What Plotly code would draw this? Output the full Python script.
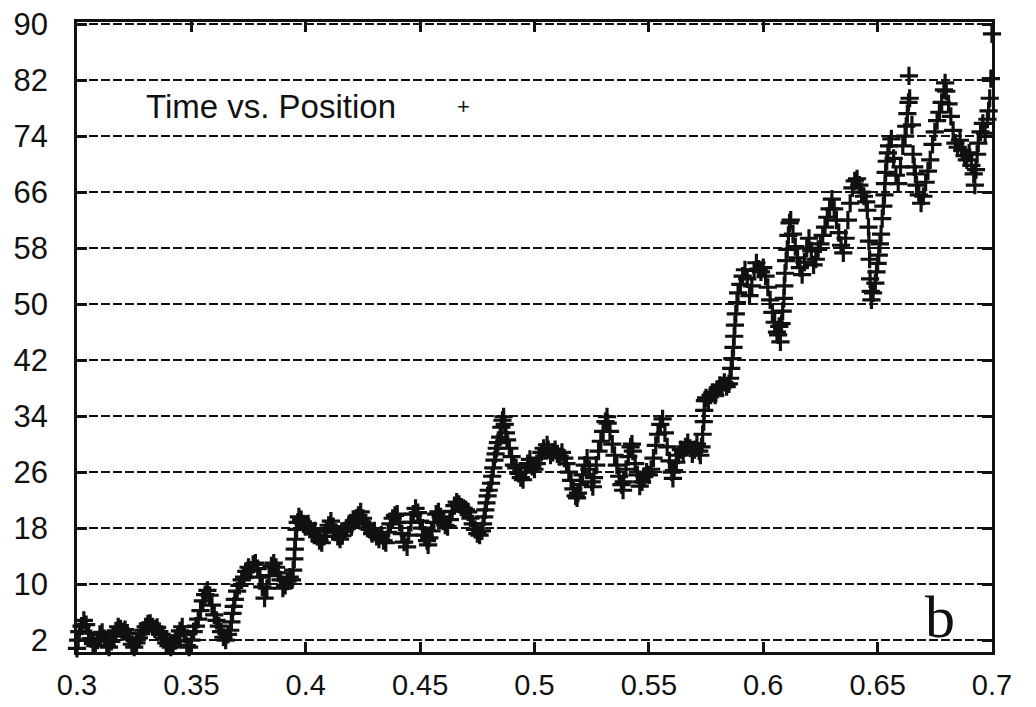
import plotly.graph_objects as go

# Measured trajectory: position (x) against time (y)
position = [
    0.300, 0.3005, 0.301, 0.302, 0.303, 0.304, 0.305, 0.306, 0.307, 0.308,
    0.309, 0.310, 0.311, 0.312, 0.313, 0.314, 0.315, 0.316, 0.317, 0.318,
    0.319, 0.320, 0.321, 0.322, 0.323, 0.324, 0.325, 0.326, 0.327, 0.328,
    0.329, 0.330, 0.331, 0.332, 0.333, 0.334, 0.335, 0.336, 0.337, 0.338,
    0.339, 0.340, 0.341, 0.342, 0.343, 0.344, 0.345, 0.346, 0.347, 0.348,
    0.3485, 0.349, 0.350, 0.351, 0.352, 0.353, 0.354, 0.355, 0.356, 0.357,
    0.358, 0.359, 0.360, 0.361, 0.362, 0.363, 0.364, 0.365, 0.366, 0.367,
    0.3675, 0.368, 0.3685, 0.369, 0.370, 0.371, 0.372, 0.373, 0.374, 0.375,
    0.376, 0.377, 0.378, 0.379, 0.380, 0.381, 0.382, 0.383, 0.384, 0.385,
    0.386, 0.387, 0.388, 0.389, 0.390, 0.391, 0.392, 0.393, 0.394, 0.3945,
    0.395, 0.3952, 0.3955, 0.396, 0.3965, 0.397, 0.398, 0.399, 0.400, 0.401,
    0.402, 0.403, 0.404, 0.405, 0.406, 0.407, 0.408, 0.409, 0.410, 0.411,
    0.412, 0.413, 0.414, 0.415, 0.416, 0.417, 0.418, 0.419, 0.420, 0.421,
    0.422, 0.423, 0.424, 0.425, 0.426, 0.427, 0.428, 0.429, 0.430, 0.431,
    0.432, 0.433, 0.434, 0.435, 0.436, 0.437, 0.438, 0.439, 0.440, 0.441,
    0.442, 0.443, 0.4443, 0.445, 0.446, 0.447, 0.448, 0.449, 0.450, 0.451,
    0.452, 0.453, 0.4535, 0.454, 0.455, 0.456, 0.457, 0.458, 0.459, 0.460,
    0.461, 0.462, 0.463, 0.464, 0.465, 0.466, 0.467, 0.468, 0.469, 0.470,
    0.471, 0.472, 0.473, 0.474, 0.475, 0.476, 0.477, 0.4775, 0.478, 0.4785,
    0.479, 0.4795, 0.480, 0.481, 0.4815, 0.482, 0.4825, 0.483, 0.4835, 0.484,
    0.485, 0.4855, 0.486, 0.4865, 0.487, 0.4875, 0.488, 0.489, 0.490, 0.491,
    0.492, 0.493, 0.494, 0.495, 0.496, 0.497, 0.498, 0.499, 0.500, 0.501,
    0.502, 0.503, 0.504, 0.5055, 0.506, 0.507, 0.508, 0.509, 0.510, 0.511,
    0.512, 0.513, 0.514, 0.515, 0.516, 0.517, 0.518, 0.5186, 0.519, 0.520,
    0.521, 0.522, 0.523, 0.524, 0.525, 0.5255, 0.526, 0.527, 0.528, 0.529,
    0.530, 0.531, 0.5317, 0.532, 0.533, 0.534, 0.535, 0.536, 0.537, 0.538,
    0.5387, 0.539, 0.540, 0.541, 0.542, 0.5426, 0.543, 0.544, 0.545, 0.546,
    0.547, 0.548, 0.549, 0.550, 0.551, 0.552, 0.553, 0.554, 0.555, 0.556,
    0.557, 0.558, 0.559, 0.560, 0.5605, 0.561, 0.562, 0.563, 0.564, 0.565,
    0.566, 0.567, 0.568, 0.569, 0.570, 0.571, 0.572, 0.5725, 0.573, 0.5735,
    0.574, 0.5742, 0.5745, 0.575, 0.576, 0.577, 0.578, 0.579, 0.580, 0.581,
    0.582, 0.583, 0.584, 0.585, 0.5855, 0.586, 0.5865, 0.587, 0.5873, 0.5876,
    0.588, 0.5885, 0.589, 0.590, 0.591, 0.592, 0.593, 0.594, 0.595, 0.596,
    0.597, 0.598, 0.599, 0.600, 0.601, 0.602, 0.603, 0.604, 0.605, 0.606,
    0.6065, 0.607, 0.6075, 0.608, 0.6085, 0.609, 0.6092, 0.6095, 0.610, 0.6105,
    0.611, 0.6115, 0.612, 0.613, 0.614, 0.615, 0.616, 0.617, 0.618, 0.619,
    0.620, 0.621, 0.622, 0.623, 0.624, 0.625, 0.626, 0.627, 0.628, 0.629,
    0.630, 0.631, 0.632, 0.633, 0.634, 0.635, 0.636, 0.637, 0.638, 0.639,
    0.640, 0.641, 0.642, 0.643, 0.644, 0.645, 0.6455, 0.646, 0.6462, 0.6465,
    0.6467, 0.647, 0.6473, 0.648, 0.649, 0.6495, 0.650, 0.6505, 0.651, 0.6515,
    0.652, 0.6525, 0.653, 0.6532, 0.6535, 0.654, 0.6545, 0.655, 0.656, 0.657,
    0.658, 0.659, 0.660, 0.661, 0.662, 0.6625, 0.663, 0.6635, 0.6637, 0.664,
    0.665, 0.6655, 0.666, 0.6665, 0.667, 0.668, 0.669, 0.670, 0.671, 0.672,
    0.673, 0.674, 0.675, 0.676, 0.677, 0.678, 0.679, 0.6795, 0.680, 0.681,
    0.682, 0.683, 0.684, 0.685, 0.686, 0.687, 0.688, 0.689, 0.690, 0.691,
    0.692, 0.6925, 0.693, 0.6935, 0.694, 0.695, 0.696, 0.697, 0.698, 0.6985,
    0.699, 0.6995, 0.700,
]

time = [
    0.8, 2.0, 3.2, 4.0, 4.8, 4.2, 3.0, 2.2, 1.5, 1.2,
    2.0, 2.8, 3.1, 2.2, 1.2, 1.0, 1.8, 2.6, 3.3, 3.9,
    3.6, 3.2, 3.5, 3.0, 2.2, 1.4, 1.0, 1.6, 2.3, 2.9,
    3.4, 3.9, 4.3, 4.4, 3.9, 3.6, 3.8, 3.2, 2.8, 2.2,
    1.6, 1.2, 1.0, 1.5, 1.9, 2.6, 3.3, 3.9, 2.8, 1.2,
    0.2, 1.0, 2.0, 3.2, 4.0, 5.0, 6.2, 7.6, 8.5, 9.1,
    8.4, 7.0, 5.6, 4.8, 4.0, 3.2, 2.4, 2.0, 2.8, 3.4,
    4.6, 5.8, 6.8, 7.8, 9.0, 9.8, 10.6, 11.0, 11.8, 12.4,
    12.0, 12.8, 13.0, 12.2, 11.0, 9.6, 8.0, 9.4, 11.2, 12.6,
    13.0, 12.4, 11.6, 10.6, 9.4, 9.8, 10.4, 11.0, 10.6, 12.0,
    13.6, 15.0, 16.4, 17.8, 18.8, 19.6, 19.2, 18.6, 18.2, 18.6,
    17.8, 17.2, 17.6, 16.8, 16.2, 15.9, 16.8, 17.6, 18.4, 19.0,
    18.2, 17.4, 16.8, 16.4, 16.9, 17.6, 18.0, 18.6, 18.2, 19.0,
    19.4, 19.8, 20.3, 19.4, 18.6, 18.0, 17.8, 17.2, 17.6, 16.8,
    16.4, 17.0, 16.2, 15.9, 17.4, 18.6, 19.4, 19.8, 20.0, 18.8,
    17.2, 16.0, 15.3, 17.0, 18.8, 20.0, 20.8, 20.2, 19.0, 18.0,
    17.0, 16.2, 15.6, 16.6, 17.6, 18.8, 20.0, 20.3, 19.6, 19.0,
    18.4, 18.2, 19.2, 20.4, 21.2, 21.7, 21.4, 21.0, 20.8, 20.6,
    20.3, 19.4, 18.6, 17.8, 17.2, 17.0, 17.6, 18.6, 19.6, 20.6,
    21.6, 22.6, 23.4, 24.4, 25.4, 26.6, 27.7, 28.6, 29.4, 30.2,
    31.0, 32.4, 33.4, 33.9, 32.8, 31.6, 30.6, 29.4, 28.2, 27.0,
    26.6, 25.8, 25.2, 24.9, 26.0, 27.2, 27.8, 26.8, 26.4, 27.2,
    28.0, 28.8, 29.4, 29.9, 29.2, 28.4, 28.8, 29.2, 28.6, 28.2,
    28.8, 28.0, 27.2, 26.0, 24.8, 23.6, 22.6, 22.3, 23.0, 24.2,
    25.6, 27.0, 28.0, 26.4, 24.6, 23.9, 25.2, 27.0, 29.0, 30.4,
    31.8, 33.2, 33.9, 33.0, 31.8, 30.0, 28.4, 27.0, 25.4, 24.2,
    23.4, 24.6, 26.4, 28.2, 29.6, 30.0, 29.0, 27.2, 25.6, 24.0,
    24.6, 25.4, 26.0, 25.6, 26.4, 28.0, 29.8, 31.4, 32.8, 33.6,
    31.6, 29.6, 27.6, 26.0, 25.1, 26.2, 27.4, 28.4, 29.2, 28.8,
    29.6, 30.2, 29.4, 28.6, 29.2, 30.0, 29.0, 28.4, 29.6, 31.4,
    33.2, 34.8, 36.2, 36.6, 36.2, 37.0, 37.4, 37.0, 37.8, 38.4,
    38.0, 38.8, 38.2, 38.6, 39.4, 40.8, 42.2, 43.8, 45.4, 47.0,
    48.6, 50.2, 51.6, 52.8, 54.0, 54.9, 53.6, 51.2, 52.6, 54.8,
    55.9, 55.0, 54.6, 55.2, 54.0, 52.4, 50.6, 48.8, 47.4, 46.0,
    45.6, 46.8, 44.6, 47.2, 49.0, 50.8, 52.6, 54.4, 56.2, 57.8,
    59.8, 61.6, 62.0, 60.0, 58.2, 56.6, 55.2, 54.2, 56.0, 58.0,
    59.4, 57.6, 55.6, 56.4, 57.8, 58.6, 59.8, 61.0, 62.4, 63.6,
    65.0, 63.6, 62.0, 60.2, 58.4, 57.3, 59.4, 62.0, 64.4, 66.6,
    67.6, 67.9, 67.0, 66.0, 65.4, 64.6, 63.4, 61.0, 59.0, 56.4,
    53.6, 51.8, 50.6, 51.6, 53.0, 54.6, 55.8, 57.0, 58.6, 60.0,
    62.2, 64.0, 65.6, 67.2, 68.8, 70.4, 71.6, 72.6, 73.6, 70.8,
    68.4, 67.2, 69.6, 72.6, 74.0, 75.4, 77.2, 78.8, 82.6, 79.4,
    75.6, 71.4, 69.6, 68.6, 67.0, 65.6, 64.4, 65.4, 67.4, 69.0,
    70.6, 72.8, 74.6, 76.2, 77.4, 78.8, 80.6, 81.6, 80.4, 78.6,
    76.8, 74.8, 73.0, 72.4, 73.4, 72.0, 71.2, 70.6, 71.6, 69.8,
    68.6, 67.0, 69.2, 71.4, 73.0, 74.6, 75.8, 74.4, 76.4, 77.6,
    79.4, 82.2, 88.6,
]

x_ticks = [0.3, 0.35, 0.4, 0.45, 0.5, 0.55, 0.6, 0.65, 0.7]
x_tick_text = ["0.3", "0.35", "0.4", "0.45", "0.5", "0.55", "0.6", "0.65", "0.7"]
y_ticks = [2, 10, 18, 26, 34, 42, 50, 58, 66, 74, 82, 90]

series_name = "Time vs. Position"
panel_tag = "b"

ink = "#111111"
sans = "Liberation Sans, Arial, sans-serif"
y_label_font = dict(family=sans, size=31, color=ink)
x_label_font = dict(family=sans, size=29, color=ink)

fig = go.Figure()
fig.add_trace(go.Scatter(
    x=position, y=time, mode="markers", name=series_name,
    marker=dict(symbol="cross-thin", size=13, line=dict(width=3.2, color=ink), color=ink),
    showlegend=False, cliponaxis=False,
))

fig.update_layout(
    width=1036, height=707,
    margin=dict(l=77, r=44, t=22, b=55),
    paper_bgcolor="white", plot_bgcolor="white",
    font=y_label_font,
    xaxis=dict(
        range=[0.3, 0.7], tickvals=x_ticks, ticktext=x_tick_text,
        showgrid=False, zeroline=False, automargin=False,
        showline=True, linecolor=ink, linewidth=2.5, mirror="ticks",
        ticks="inside", ticklen=10, tickwidth=2.5, tickcolor=ink,
        tickfont=x_label_font, ticklabelstandoff=5,
    ),
    yaxis=dict(
        range=[0.29, 90.29], tickvals=y_ticks,
        showgrid=True, gridcolor=ink, gridwidth=1.6, griddash="9px,3px",
        zeroline=False, automargin=False,
        showline=True, linecolor=ink, linewidth=2.5, mirror="ticks",
        ticks="inside", ticklen=10, tickwidth=2.5, tickcolor=ink,
        tickfont=y_label_font, ticklabelstandoff=20,
    ),
    annotations=[
        dict(text=series_name, xref="paper", yref="paper", x=0.073, y=0.866,
             xanchor="left", yanchor="middle", showarrow=False,
             font=dict(family=sans, size=33, color=ink)),
        dict(text="+", xref="paper", yref="paper", x=0.422, y=0.866,
             xanchor="center", yanchor="middle", showarrow=False,
             font=dict(family=sans, size=22, color=ink)),
        dict(text=panel_tag, xref="paper", yref="paper", x=0.943, y=0.055,
             xanchor="center", yanchor="middle", showarrow=False,
             font=dict(family="Liberation Serif, Times New Roman, serif", size=60, color=ink)),
    ],
)

fig.write_html("out.html")
